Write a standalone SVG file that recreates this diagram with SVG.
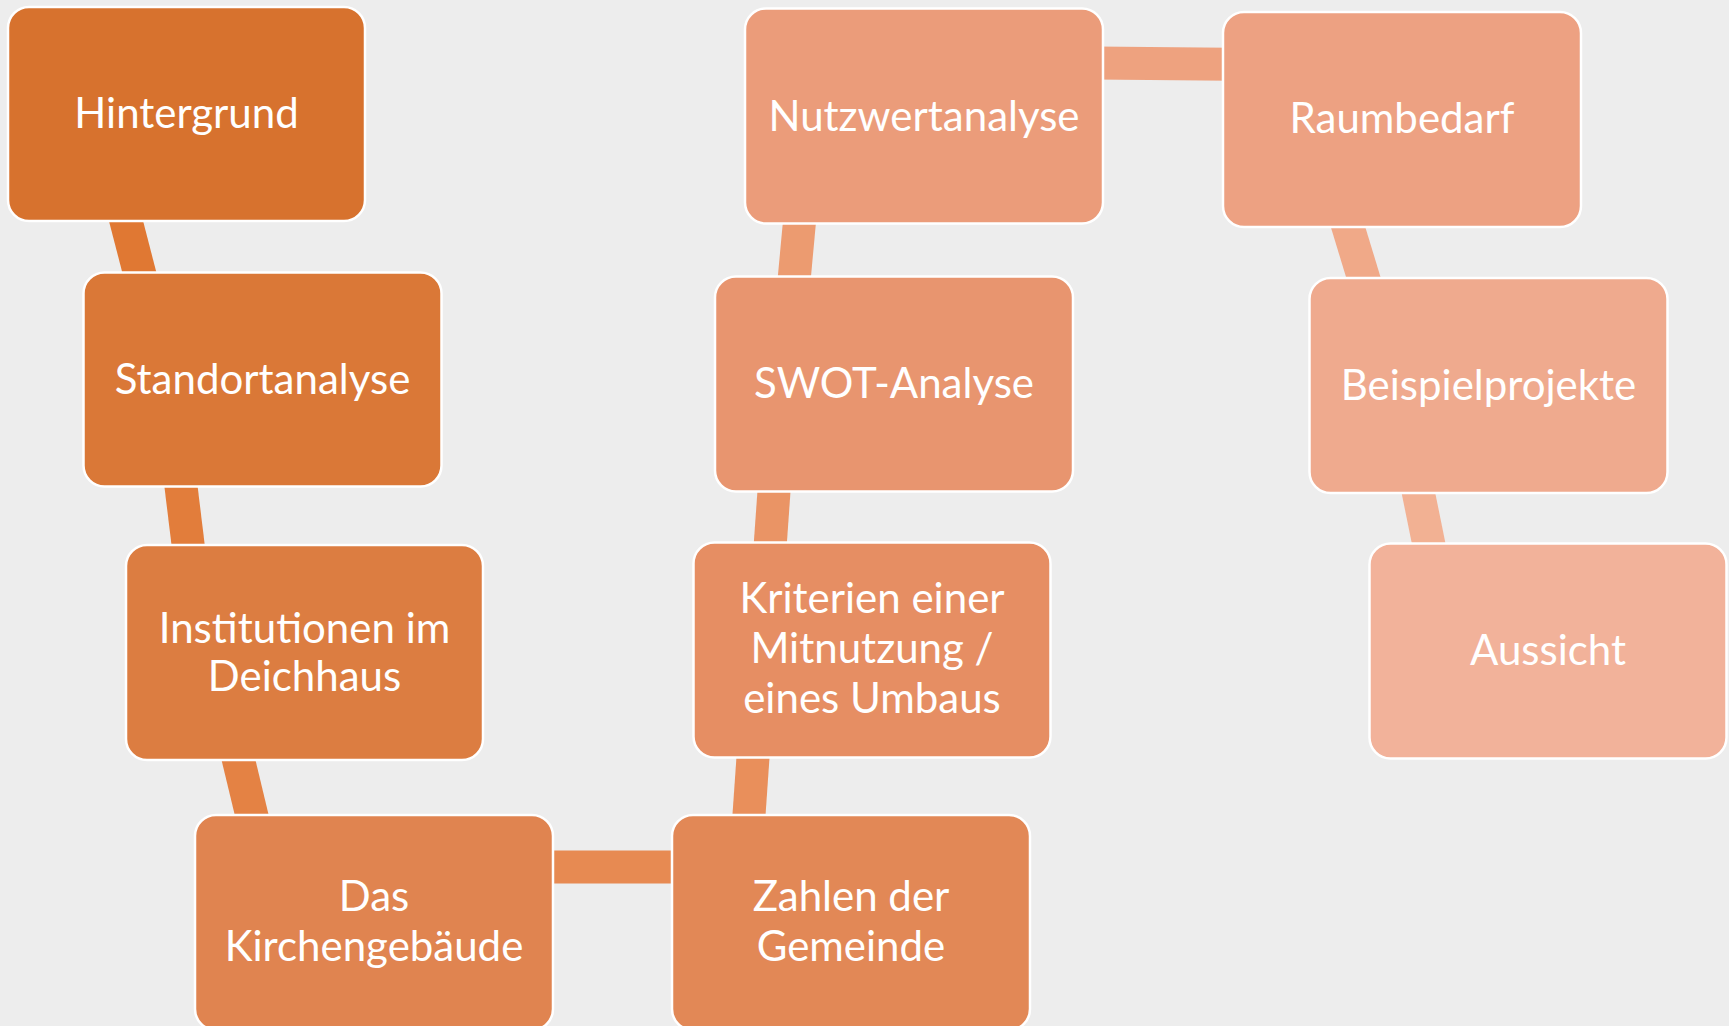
<svg xmlns="http://www.w3.org/2000/svg" width="1729" height="1026" viewBox="0 0 1729 1026">
<style>
.box{stroke:#FFFFFF;stroke-width:2.5}
.lbl{font-family:Lato,"Open Sans","Liberation Sans",sans-serif;font-size:42px;fill:#FFFFFF;text-anchor:middle}
.con line{stroke-width:33;stroke-linecap:butt;fill:none}
</style>
<rect x="0" y="0" width="1729" height="1026" fill="#EDEDED"/>
<g id="connectors" class="con">
<line x1="124.2" y1="214" x2="141.3" y2="280" stroke="#E07833"/>
<line x1="180.2" y1="480" x2="189" y2="552" stroke="#E27D3B"/>
<line x1="236.8" y1="753" x2="253.4" y2="822" stroke="#E48244"/>
<line x1="545" y1="867" x2="680" y2="867" stroke="#E78A52"/>
<line x1="753.5" y1="750" x2="748.5" y2="822" stroke="#E98F5B"/>
<line x1="774.5" y1="484" x2="769.9" y2="549" stroke="#EA9465"/>
<line x1="800" y1="216" x2="793.8" y2="283" stroke="#EC9B70"/>
<line x1="1095" y1="63.1" x2="1230" y2="64.3" stroke="#EEA27F"/>
<line x1="1345.9" y1="220" x2="1365.4" y2="284" stroke="#F0A988"/>
<line x1="1417" y1="486" x2="1430" y2="550" stroke="#F2B193"/>
</g>
<g id="n1"><rect class="box" x="8" y="7" width="357" height="214" rx="21" fill="#D7722E"/><text class="lbl" x="186.5" y="127.5">Hintergrund</text></g>
<g id="n2"><rect class="box" x="83.5" y="272.5" width="358" height="214" rx="21" fill="#DA7837"/><text class="lbl" x="262.5" y="394">Standortanalyse</text></g>
<g id="n3"><rect class="box" x="126" y="545" width="357" height="215" rx="21" fill="#DC7D41"/><text class="lbl" x="304.5" y="642.5">Institutionen im</text><text class="lbl" x="304.5" y="691">Deichhaus</text></g>
<g id="n4"><rect class="box" x="195" y="815" width="358" height="215" rx="21" fill="#E08450"/><text class="lbl" x="374" y="910.5">Das</text><text class="lbl" x="374" y="960.5">Kirchengebäude</text></g>
<g id="n5"><rect class="box" x="672" y="815" width="358" height="215" rx="21" fill="#E28856"/><text class="lbl" x="851" y="910.5">Zahlen der</text><text class="lbl" x="851" y="960.5">Gemeinde</text></g>
<g id="n6"><rect class="box" x="693.5" y="542.5" width="357" height="215" rx="21" fill="#E68E63"/><text class="lbl" x="872" y="613">Kriterien einer</text><text class="lbl" x="872" y="663">Mitnutzung /</text><text class="lbl" x="872" y="712.5">eines Umbaus</text></g>
<g id="n7"><rect class="box" x="715" y="276.5" width="358" height="215" rx="21" fill="#E8956F"/><text class="lbl" x="894" y="397.5">SWOT-Analyse</text></g>
<g id="n8"><rect class="box" x="745" y="8.5" width="358" height="215" rx="21" fill="#EB9C7A"/><text class="lbl" x="924" y="131">Nutzwertanalyse</text></g>
<g id="n9"><rect class="box" x="1223" y="12" width="358" height="215" rx="21" fill="#EDA182"/><text class="lbl" x="1402" y="133">Raumbedarf</text></g>
<g id="n10"><rect class="box" x="1309.5" y="278" width="358" height="215" rx="21" fill="#EFAA8E"/><text class="lbl" x="1488.5" y="399.5">Beispielprojekte</text></g>
<g id="n11"><rect class="box" x="1369.5" y="543.5" width="357" height="215" rx="21" fill="#F2B29A"/><text class="lbl" x="1548" y="665">Aussicht</text></g>
</svg>
